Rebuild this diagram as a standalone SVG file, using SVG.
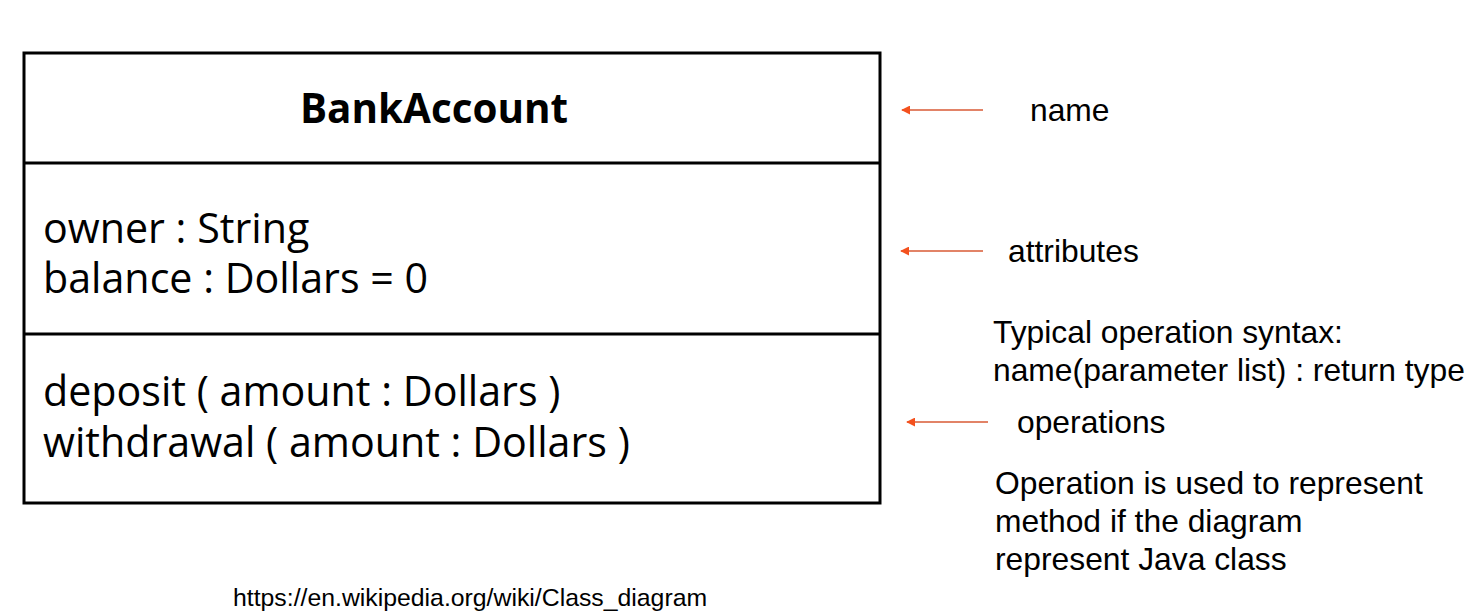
<svg xmlns="http://www.w3.org/2000/svg" width="1483" height="612" viewBox="0 0 1483 612">
<style>
.box{fill:#fff;stroke:#000;stroke-width:3}
.sep{stroke:#000;stroke-width:3}
.title{font-family:"Open Sans",sans-serif;font-weight:bold;font-size:40.4px;fill:#000}
.mem{font-family:"Open Sans",sans-serif;font-size:41.2px;fill:#000}
.note{font-family:"Liberation Sans",Arial,sans-serif;font-size:31.8px;fill:#000}
.url{font-family:"Liberation Sans",Arial,sans-serif;font-size:24.8px;fill:#000}
.arr{stroke:#d95a35;stroke-width:1.5;fill:none;marker-end:url(#ah)}
</style>
<defs>
<marker id="ah" viewBox="0 0 10 10" refX="9" refY="5" markerWidth="6" markerHeight="6" orient="auto" markerUnits="strokeWidth">
<path d="M0,0 L10,5 L0,10 z" fill="#f4511e"/>
</marker>
</defs>
<rect width="1483" height="612" fill="#fff"/>
<g id="bankaccount">
<rect class="box" x="24" y="53" width="856" height="450"/>
<line class="sep" x1="24" y1="163" x2="880" y2="163"/>
<line class="sep" x1="24" y1="334" x2="880" y2="334"/>
<text class="title" x="434" y="123" text-anchor="middle">BankAccount</text>
<text class="mem" x="43" y="243">owner : String</text>
<text class="mem" x="43" y="293">balance : Dollars = 0</text>
<text class="mem" x="43" y="406">deposit ( amount : Dollars )</text>
<text class="mem" x="43" y="457">withdrawal ( amount : Dollars )</text>
</g>
<g id="label-name"><text class="note" x="1030" y="121">name</text></g>
<g id="label-attributes"><text class="note" x="1008" y="262">attributes</text></g>
<g id="label-syntax"><text class="note" x="993" y="343">Typical operation syntax:</text><text class="note" x="993" y="381">name(parameter list) : return type</text></g>
<g id="label-operations"><text class="note" x="1017" y="433">operations</text></g>
<g id="label-note"><text class="note" x="995" y="494">Operation is used to represent</text><text class="note" x="995" y="532">method if the diagram</text><text class="note" x="995" y="570">represent Java class</text></g>
<g id="source"><text class="url" x="233" y="606">https://en.wikipedia.org/wiki/Class_diagram</text></g>
<g id="connectors">
<line class="arr" x1="983" y1="110" x2="902" y2="110"/>
<line class="arr" x1="983" y1="251" x2="901" y2="251"/>
<line class="arr" x1="988" y1="422" x2="907" y2="422"/>
</g>
</svg>
